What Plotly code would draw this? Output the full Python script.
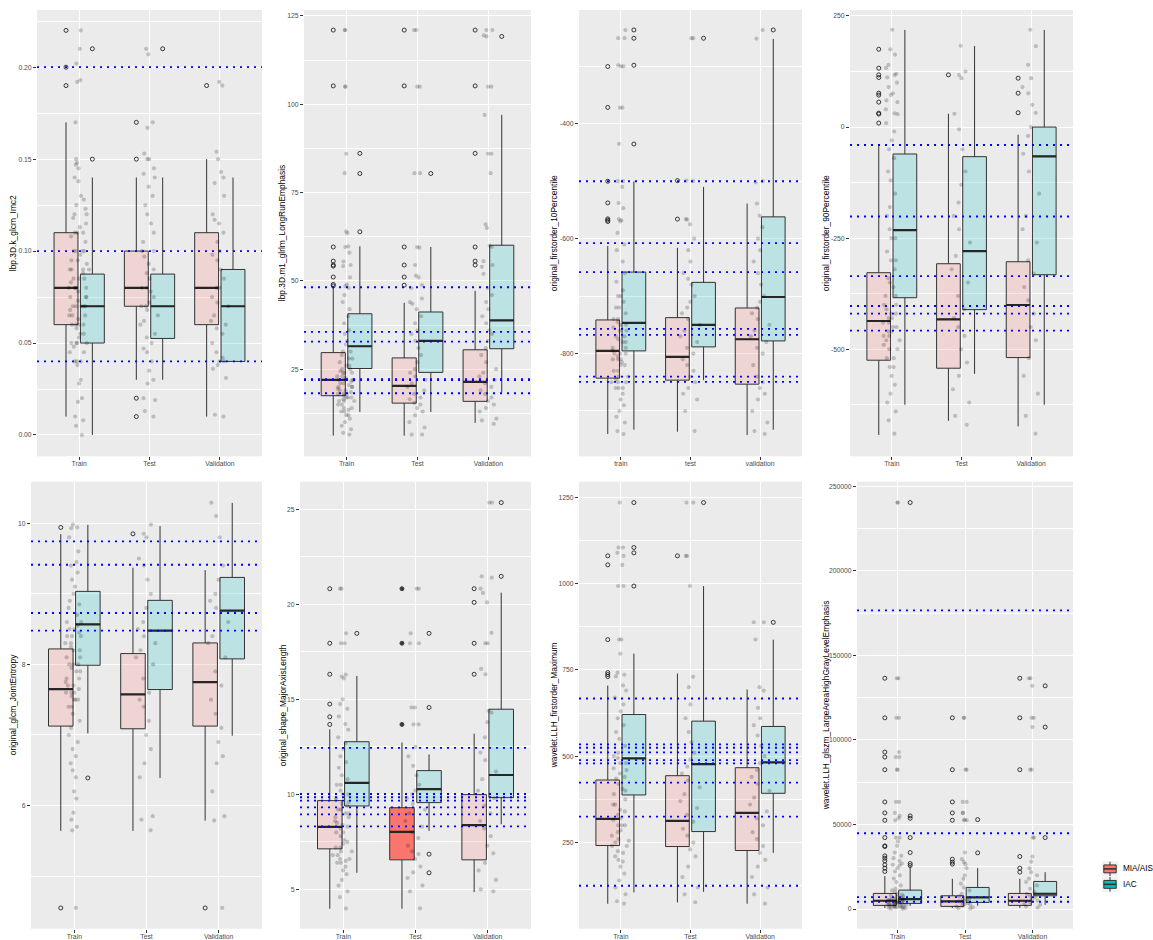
import plotly.graph_objects as go

# ------------------------------------------------------------------ data
categories = ["Train", "Test", "Validation"]
categories_lower = ["train", "test", "validation"]
group_names = ["MIA/AIS", "IAC"]
group_colors = ["#F8766D", "#00BFC4"]

feature_titles = [
    "lbp.3D.k_glcm_Imc2",
    "lbp.3D.m1_glrlm_LongRunEmphasis",
    "original_firstorder_10Percentile",
    "original_firstorder_90Percentile",
    "original_glcm_JointEntropy",
    "original_shape_MajorAxisLength",
    "wavelet.LLH_firstorder_Maximum",
    "wavelet.LLH_glszm_LargeAreaHighGrayLevelEmphasis",
]

# box stats per split (Train, Test, Validation): [lower whisker, q1, median, q3, upper whisker]
imc2_mia = [[0.01, 0.06, 0.08, 0.11, 0.17], [0.03, 0.07, 0.08, 0.10, 0.14], [0.01, 0.06, 0.08, 0.11, 0.15]]
imc2_iac = [[0.00, 0.05, 0.07, 0.0875, 0.14], [0.03, 0.0525, 0.07, 0.0875, 0.14], [0.04, 0.04, 0.07, 0.09, 0.14]]
imc2_mia_out = [[0.22, 0.20, 0.19], [0.17, 0.15, 0.02, 0.01], [0.19]]
imc2_iac_out = [[0.21, 0.15], [0.21], []]
imc2_cut = [0.20, 0.10, 0.04]
imc2_pts = [
    [0.22, 0.21, 0.202, 0.193, 0.192, 0.17, 0.15, 0.148, 0.147, 0.145, 0.14, 0.138, 0.13, 0.128, 0.125,
     0.123, 0.12, 0.118, 0.115, 0.113, 0.11, 0.11, 0.108, 0.105, 0.10, 0.10, 0.098, 0.095, 0.093, 0.09,
     0.09, 0.088, 0.085, 0.083, 0.08, 0.08, 0.08, 0.078, 0.075, 0.073, 0.07, 0.07, 0.07, 0.068, 0.065,
     0.063, 0.06, 0.06, 0.058, 0.055, 0.053, 0.05, 0.05, 0.048, 0.045, 0.04, 0.04, 0.038, 0.03, 0.028,
     0.02, 0.018, 0.01, 0.008, 0.005, 0.00,
     0.12, 0.11, 0.10, 0.095, 0.09, 0.085, 0.08, 0.08, 0.075, 0.07, 0.07, 0.065, 0.06, 0.055, 0.05, 0.045,
     0.09, 0.10, 0.085, 0.075, 0.065, 0.06, 0.05, 0.04],
    [0.21, 0.207, 0.17, 0.167, 0.153, 0.15, 0.15, 0.145, 0.142, 0.14, 0.135, 0.13, 0.125, 0.12, 0.115,
     0.11, 0.105, 0.10, 0.10, 0.097, 0.093, 0.09, 0.088, 0.085, 0.08, 0.08, 0.078, 0.075, 0.072, 0.07,
     0.07, 0.068, 0.065, 0.062, 0.06, 0.055, 0.053, 0.05, 0.047, 0.045, 0.04, 0.035, 0.03, 0.028, 0.02,
     0.019, 0.013, 0.01],
    [0.19, 0.192, 0.154, 0.15, 0.143, 0.14, 0.137, 0.13, 0.12, 0.117, 0.115, 0.11, 0.105, 0.10, 0.098,
     0.095, 0.09, 0.085, 0.08, 0.08, 0.075, 0.072, 0.07, 0.065, 0.062, 0.06, 0.058, 0.055, 0.05, 0.045,
     0.042, 0.04, 0.04, 0.038, 0.036, 0.031, 0.011, 0.01],
]

lre_mia = [[6.2, 17.5, 22.0, 29.7, 48.4], [6.2, 15.4, 20.3, 28.2, 43.8], [9.8, 15.9, 21.4, 30.5, 47.2]]
lre_iac = [[12.9, 25.2, 31.5, 40.7, 59.8], [12.9, 24.1, 33.0, 41.2, 59.6], [18.4, 30.8, 38.8, 60.1, 97.0]]
lre_mia_out = [[121, 105.2, 59.6, 55.6, 54.5, 54.2, 51.1, 49.0, 48.6], [121, 105.2, 59.6, 54.5, 51.1, 48.8],
               [121, 105.2, 86.1, 59.6, 55.6, 54.5]]
lre_iac_out = [[86.1, 80.4, 63.9], [80.4], [119.2]]
lre_cut = [48.2, 35.6, 32.8, 22.2, 21.9, 18.2]
lre_pts = [
    [121, 121, 105, 105, 86, 80.5, 64, 63.5, 59.8, 59.6, 58, 55.5, 54.5, 54.2, 51, 49, 48.5, 48, 46, 44,
     42, 40, 38, 36, 35, 33, 32, 30, 29, 28, 27, 26, 25, 24.5, 24, 23, 22.5, 22, 22, 21.5, 21, 20.5, 20,
     19.5, 19, 18.5, 18, 17.5, 17, 16.5, 16, 15, 14, 13.5, 13, 12, 11, 10, 9, 8, 7, 6.5,
     30, 28, 26, 25, 24, 23, 22, 21, 20, 19, 18, 17, 16, 15, 14, 13, 12, 20, 22, 24, 18, 17, 16],
    [121, 121, 105, 105, 80.5, 80.5, 59.6, 59.4, 54.5, 51.5, 51, 48.8, 48, 45, 44, 43.5, 42, 40, 38, 36,
     35, 33, 31, 29, 27, 25, 24, 23, 22, 21, 20, 19, 18, 17, 16.5, 15.5, 15, 14, 13, 12, 10, 8.5, 6.5, 6.5],
    [121, 121, 119.5, 119.2, 105, 105, 97, 86, 86, 80.5, 66, 65, 60, 59.6, 55.6, 54.5, 54, 52, 48, 46,
     44, 42, 40, 38, 36, 35, 33, 31, 29, 27, 25, 24, 23, 22, 21, 20, 19, 18, 17, 16, 15, 14, 13, 11,
     10.5, 9.5],
]

p10_mia = [[-940, -842.8, -795.4, -741.5, -613], [-936, -846.3, -805.8, -737.5, -616],
           [-941.8, -853.3, -775.1, -720.7, -539]]
p10_iac = [[-932.6, -795.4, -746.7, -658.2, -500.1], [-846.3, -788.4, -750.2, -676.1, -510],
           [-932.6, -778, -701.6, -562.1, -252.4]]
p10_mia_out = [[-300.4, -371.6, -500.1, -537.8, -565.6, -567.9, -570.2], [-499, -566], []]
p10_iac_out = [[-236.8, -251.2, -298.1, -435.3], [-251.2], [-236.8]]
p10_cut = [-500.1, -607.8, -658.2, -757.2, -767.6, -840, -849.2]
p10_pts = [
    [-237, -251, -251, -298, -300, -300, -372, -372, -435, -500, -500, -510, -538, -547, -566, -568, -570,
     -590, -610, -620, -640, -660, -675, -690, -700, -710, -720, -730, -740, -745, -750, -755, -760, -770,
     -775, -780, -790, -795, -800, -805, -810, -815, -820, -830, -840, -845, -850, -860, -870, -880, -890,
     -900, -910, -920, -935, -940,
     -760, -770, -780, -790, -800, -810, -820, -830, -840, -850, -860, -700, -720, -740, -750, -800, -810,
     -850, -860],
    [-251, -251, -499, -500, -566, -567, -575, -600, -620, -640, -660, -670, -680, -700, -710, -720, -730,
     -740, -750, -760, -770, -780, -790, -800, -810, -820, -830, -840, -850, -860, -870, -880, -900, -935],
    [-237, -252, -500, -502, -539, -560, -580, -600, -620, -640, -660, -680, -700, -710, -720, -730, -740,
     -750, -760, -770, -780, -790, -800, -820, -840, -850, -860, -870, -880, -900, -920, -935, -940],
]

p90_mia = [[-693.1, -524.7, -436.4, -327.8, -38.2], [-661, -542.7, -432.6, -307.6, 29.9],
           [-673.7, -518.7, -400.4, -303.1, -17.2]]
p90_iac = [[-625, -384, -232, -60.6, 218.6], [-555.4, -410.9, -279.2, -66.6, 182.6],
           [-625, -332.3, -65.9, 0, 218.6]]
p90_mia_out = [[175.1, 132.5, 117.5, 111.5, 76.3, 71.9, 56.1, 31.4, 29.2, 9.0], [117.5], [110, 76.3, 32.2]]
p90_iac_out = [[], [], []]
p90_cut = [-40.4, -201.3, -335.3, -402.7, -419.9, -458.1]
p90_pts = [
    [219, 175, 163, 140, 133, 120, 117, 112, 100, 90, 76, 72, 60, 56, 40, 31, 29, 9, -10, -30, -50, -70,
     -100, -120, -150, -180, -200, -230, -250, -280, -300, -320, -340, -360, -380, -400, -410, -420, -430,
     -440, -450, -460, -470, -480, -500, -520, -540, -560, -580, -600, -620, -640, -660, -690,
     -350, -380, -400, -420, -440, -460, -480, -500, -520, -540, -430, -450, -470, -490, -300, -250],
    [183, 125, 117, 110, 30, -5, -50, -100, -130, -170, -200, -230, -260, -290, -320, -350, -380, -410,
     -430, -450, -470, -500, -530, -560, -590, -620, -650, -670],
    [219, 182, 140, 110, 90, 76, 50, 32, 0, -20, -60, -100, -150, -200, -230, -260, -300, -330, -360, -390,
     -420, -450, -480, -520, -560, -600, -650, -690],
]

ent_mia = [[5.642, 7.126, 7.649, 8.219, 9.845], [5.642, 7.088, 7.574, 8.153, 9.369], [5.788, 7.126, 7.748, 8.304, 9.336]]
ent_iac = [[7.022, 7.988, 8.568, 9.034, 9.976], [6.391, 7.644, 8.478, 8.907, 9.958], [6.99, 8.078, 8.761, 9.232, 10.287]]
ent_mia_out = [[9.94, 4.55], [9.849], [4.55]]
ent_iac_out = [[6.391], [], []]
ent_cut = [9.741, 9.411, 8.728, 8.478]
ent_pts = [
    [9.98, 9.94, 9.93, 9.8, 9.6, 9.45, 9.4, 9.3, 9.2, 9.1, 9.0, 8.9, 8.85, 8.8, 8.7, 8.6, 8.55, 8.5, 8.45,
     8.4, 8.3, 8.25, 8.2, 8.1, 8.0, 7.95, 7.9, 7.8, 7.75, 7.7, 7.65, 7.6, 7.55, 7.5, 7.4, 7.3, 7.2, 7.1,
     7.0, 6.9, 6.8, 6.7, 6.6, 6.5, 6.4, 6.2, 6.1, 5.9, 5.8, 5.7, 5.65, 4.55,
     8.6, 8.5, 8.4, 8.3, 8.2, 8.1, 8.0, 7.9, 7.8, 7.7, 7.6, 7.5, 7.4, 8.4, 8.0, 7.6, 7.5],
    [9.98, 9.85, 9.8, 9.5, 9.4, 9.2, 9.0, 8.8, 8.6, 8.5, 8.4, 8.3, 8.2, 8.1, 8.0, 7.8, 7.6, 7.5, 7.4, 7.2,
     7.0, 6.8, 6.6, 6.4, 5.85, 5.8, 5.65],
    [10.29, 10.1, 9.8, 9.4, 9.2, 9.0, 8.9, 8.8, 8.6, 8.4, 8.3, 8.1, 7.9, 7.7, 7.5, 7.3, 7.1, 6.9, 6.7, 6.6,
     6.2, 5.85, 5.79, 4.55],
]

mal_mia = [[3.985, 7.135, 8.29, 9.672, 13.42], [3.985, 6.557, 8.03, 9.30, 12.73], [4.86, 6.557, 8.378, 9.987, 13.19]]
mal_iac = [[5.875, 9.39, 10.6, 12.77, 16.23], [8.08, 9.567, 10.28, 11.25, 12.1], [8.43, 9.83, 11.02, 14.48, 20.61]]
mal_mia_out = [[20.82, 17.95, 16.32, 14.75, 14.08, 13.68], [20.82, 17.95, 13.68], [20.82, 20.1, 17.95, 16.32]]
mal_iac_out = [[18.47], [18.47, 14.57, 6.855, 5.875], [25.35, 21.47]]
mal_cut = [12.45, 10.02, 9.85, 9.67, 9.32, 8.95, 8.32]
mal_pts = [
    [20.82, 20.82, 18.47, 17.95, 17.95, 16.3, 16.2, 16.1, 15.0, 14.75, 14.5, 14.1, 13.7, 13.4, 13.0, 12.7,
     12.4, 12.0, 11.7, 11.4, 11.0, 10.8, 10.5, 10.2, 10.0, 9.8, 9.6, 9.4, 9.2, 9.0, 8.8, 8.6, 8.4, 8.2,
     8.0, 7.8, 7.6, 7.4, 7.2, 7.0, 6.8, 6.6, 6.4, 6.2, 6.0, 5.8, 5.5, 5.2, 4.9, 4.6, 4.0,
     10.5, 10.0, 9.5, 9.0, 8.5, 8.3, 8.0, 7.5, 7.0, 6.5, 6.8, 7.2, 8.8, 9.2, 6.6, 6.4],
    [20.82, 20.82, 18.47, 17.95, 17.95, 14.57, 14.57, 13.68, 13.68, 12.5, 12.0, 11.5, 11.0, 10.5, 10.2,
     10.0, 9.8, 9.5, 9.2, 9.0, 8.6, 8.3, 8.0, 7.7, 7.3, 7.0, 6.86, 6.6, 6.2, 5.9, 5.6, 5.2, 4.9, 4.0],
    [25.35, 25.35, 21.47, 21.4, 20.82, 20.6, 20.1, 18.5, 17.95, 17.95, 16.6, 16.32, 14.4, 14.3, 13.8, 13.0,
     12.2, 11.8, 11.2, 10.8, 10.2, 9.8, 9.4, 9.0, 8.6, 8.2, 7.8, 7.3, 6.9, 6.4, 6.0, 5.5, 5.0, 4.9],
]

max_mia = [[72.7, 241.3, 318.4, 431.1, 704.7], [76.6, 238.4, 312.6, 443.6, 739.4], [72.7, 226.9, 335.8, 466.8, 693.2]]
max_iac = [[105.5, 387.8, 493.7, 620.9, 797.2], [107.4, 281.8, 477.4, 601.6, 992.8], [220.1, 392.6, 482.2, 586.2, 837.7]]
max_mia_out = [[1080.4, 1054.4, 837.7, 742.3, 736.5, 730.7], [1080.4], []]
max_iac_out = [[1234.6, 1104.5, 1089.1, 992.8], [1234.6], [887.8]]
max_cut = [667.2, 534.2, 524.6, 511.1, 488.9, 479.3, 423.4, 325.2, 124.8]
max_pts = [
    [1234.6, 1104.5, 1104.5, 1089, 1080, 1054, 993, 993, 838, 838, 797, 742, 736, 731, 705, 690, 670, 650,
     630, 610, 590, 570, 550, 530, 510, 495, 480, 465, 450, 435, 420, 405, 390, 375, 360, 345, 330, 315,
     300, 285, 270, 255, 240, 225, 210, 195, 180, 160, 140, 120, 100, 80, 73,
     500, 480, 460, 440, 400, 360, 340, 320, 300, 280, 260, 240, 220, 200, 300, 250],
    [1234.6, 1234.6, 1080, 1080, 993, 730, 700, 650, 610, 570, 540, 510, 490, 470, 450, 430, 410, 390,
     370, 350, 330, 310, 290, 270, 250, 230, 210, 180, 150, 120, 100, 77],
    [888, 888, 838, 700, 690, 640, 610, 590, 560, 530, 500, 480, 460, 440, 420, 400, 380, 360, 340, 320,
     300, 280, 260, 240, 220, 200, 180, 150, 120, 100, 73],
]

lah_mia = [[600, 2158, 4912, 9240, 19500], [600, 1570, 4520, 7860, 17890], [600, 2158, 4912, 9240, 17890]]
lah_iac = [[1960, 3340, 5900, 11210, 25560], [1960, 3930, 6880, 12780, 24190], [2550, 7860, 9050, 16320, 21830]]
lah_mia_out = [[136500, 113100, 92840, 89890, 82410, 63330, 56840, 52510, 42280, 37370, 36970, 31460,
                30090, 28520, 26150, 24190, 22220],
               [113100, 82410, 63330, 56840, 52510, 29500, 27730, 26550],
               [136500, 113100, 82410, 31070, 24190, 21830]]
lah_iac_out = [[240400, 55070, 53690, 42280, 33430, 26940, 25760], [52900, 33240], [132000, 107600, 42280]]
lah_cut = [176630, 44840, 7080, 4330]
lah_pts = [
    [240400, 240400, 136500, 136500, 113100, 113100, 92840, 89890, 89890, 82410, 82410, 63330, 63330,
     56840, 55070, 53690, 52510, 42280, 42280, 40000, 37370, 33430, 31460, 30090, 28520, 26940, 26150,
     25760, 24190, 22220, 19860, 18000, 16000, 14000, 12000, 11000, 10000, 9000, 8500, 8000, 7500, 7000,
     6500, 6000, 5800, 5500, 5200, 5000, 4700, 4500, 4200, 4000, 3700, 3500, 3200, 3000, 2700, 2500, 2200,
     2000, 1800, 1500, 1200, 1000, 800, 500, 300, 200,
     3000, 4000, 5000, 6000, 2000, 3500, 4500, 5500, 1000, 1500, 2500],
    [113100, 113100, 82410, 82410, 63330, 63330, 56840, 56840, 52900, 52510, 52510, 33430, 29500, 27730,
     26550, 24190, 20000, 17890, 15000, 12780, 11000, 9000, 7500, 6000, 5500, 5000, 4500, 4000, 3500,
     3000, 2500, 2000, 1500, 1000, 500, 300],
    [136500, 136500, 132000, 113100, 113100, 107600, 82410, 82410, 42280, 42280, 31070, 28000, 24190,
     21830, 20000, 18000, 16000, 14000, 12000, 10000, 9000, 8000, 7000, 6000, 5000, 4000, 3000, 2500,
     1500, 800],
]

# ------------------------------------------------------------------ layout / style
W, H = 1153, 940
FONT = "Liberation Sans, Arial, Helvetica, sans-serif"
BOX_OFF = 0.1875
BOX_W = 0.34
TICK_SIZE = 6.8
TITLE_SIZE = 8.4

panels = [
    dict(mia=imc2_mia, iac=imc2_iac, mo=imc2_mia_out, io=imc2_iac_out, cut=imc2_cut, pts=imc2_pts, cats=categories),
    dict(mia=lre_mia, iac=lre_iac, mo=lre_mia_out, io=lre_iac_out, cut=lre_cut, pts=lre_pts, cats=categories),
    dict(mia=p10_mia, iac=p10_iac, mo=p10_mia_out, io=p10_iac_out, cut=p10_cut, pts=p10_pts, cats=categories_lower),
    dict(mia=p90_mia, iac=p90_iac, mo=p90_mia_out, io=p90_iac_out, cut=p90_cut, pts=p90_pts, cats=categories),
    dict(mia=ent_mia, iac=ent_iac, mo=ent_mia_out, io=ent_iac_out, cut=ent_cut, pts=ent_pts, cats=categories),
    dict(mia=mal_mia, iac=mal_iac, mo=mal_mia_out, io=mal_iac_out, cut=mal_cut, pts=mal_pts, cats=categories),
    dict(mia=max_mia, iac=max_iac, mo=max_mia_out, io=max_iac_out, cut=max_cut, pts=max_pts, cats=categories),
    dict(mia=lah_mia, iac=lah_iac, mo=lah_mia_out, io=lah_iac_out, cut=lah_cut, pts=lah_pts, cats=categories),
]

# pixel rectangles in the screenshot (left, right, top, bottom) of each panel
rects = [
    (37, 262, 10, 457.3), (304, 531, 10, 457.3), (579, 802, 10, 457.3), (850, 1073, 10, 457.3),
    (31, 262, 482.7, 930.7), (300, 531, 482.7, 930.7), (579, 802, 482.7, 930.7), (857, 1073, 482.7, 930.7),
]
yranges = [
    [-0.0116, 0.2311], [0.34, 126.7], [-978.9, -202.0], [-741, 263.5],
    [4.256, 10.588], [2.933, 26.45], [0.4, 1295.2], [-11625, 252733],
]
major_ticks = [
    [0.00, 0.05, 0.10, 0.15, 0.20], [25, 50, 75, 100, 125], [-800, -600, -400], [-500, -250, 0, 250],
    [6, 8, 10], [5, 10, 15, 20, 25], [250, 500, 750, 1000, 1250], [0, 50000, 100000, 150000, 200000, 250000],
]
minor_step = [0.025, 12.5, 100, 125, 1, 2.5, 125, 25000]
title_x = [13, 282, 554, 826, 13, 283, 554, 826]
solid_boxes = [(5, 1, 0)]          # (panel, split, group) drawn with opaque fill
filled_outliers = [(5, 1, 0)]      # outliers drawn as filled dots


def px(x):
    return x / W


def py(y):
    return 1 - y / H


fig = go.Figure()
shapes = []
annotations = []
layout_axes = {}

for pi, p in enumerate(panels):
    n = pi + 1
    xa = "x" if n == 1 else f"x{n}"
    ya = "y" if n == 1 else f"y{n}"
    for gi, (stats, outs) in enumerate([(p["mia"], p["mo"]), (p["iac"], p["io"])]):
        off = -BOX_OFF if gi == 0 else BOX_OFF
        r, g, b = [int(group_colors[gi][k:k + 2], 16) for k in (1, 3, 5)]
        for si in range(3):
            lo, q1, med, q3, hi = stats[si]
            pos = si + 1 + off
            fill = group_colors[gi] if (pi, si, gi) in solid_boxes else f"rgba({r},{g},{b},0.2)"
            fig.add_trace(go.Box(
                x=[pos], q1=[q1], median=[med], q3=[q3], lowerfence=[lo], upperfence=[hi],
                width=BOX_W, whiskerwidth=0, fillcolor=fill, boxpoints=False,
                line=dict(color="#333333", width=1), showlegend=False, hoverinfo="skip",
                xaxis=xa, yaxis=ya))
            fig.add_trace(go.Box(
                x=[pos], q1=[med], median=[med], q3=[med], lowerfence=[med], upperfence=[med],
                width=BOX_W, whiskerwidth=0, fillcolor="rgba(0,0,0,0)", boxpoints=False,
                line=dict(color="#262626", width=2.2), showlegend=False, hoverinfo="skip",
                xaxis=xa, yaxis=ya))
        # outliers
        for filled in (False, True):
            ox, oy = [], []
            for si in range(3):
                if ((pi, si, gi) in filled_outliers) != filled:
                    continue
                ox += [si + 1 + off] * len(outs[si])
                oy += outs[si]
            if not ox:
                continue
            fig.add_trace(go.Scatter(
                x=ox, y=oy, mode="markers", showlegend=False, hoverinfo="skip",
                marker=dict(symbol="circle" if filled else "circle-open", size=4,
                            color="rgba(25,25,25,0.85)", line=dict(width=1)),
                xaxis=xa, yaxis=ya))
    # jittered points
    for si in range(3):
        vals = p["pts"][si]
        fig.add_trace(go.Box(
            x=[si + 1] * len(vals), y=vals, boxpoints="all", jitter=1, pointpos=0, width=0.3,
            fillcolor="rgba(0,0,0,0)", line=dict(color="rgba(0,0,0,0)", width=0),
            marker=dict(color="rgba(0,0,0,0.2)", size=4.2, line=dict(width=0)),
            showlegend=False, hoverinfo="skip", xaxis=xa, yaxis=ya))
    # dotted cut-off lines
    for c in p["cut"]:
        shapes.append(dict(type="line", xref=f"{xa} domain", x0=0, x1=1, yref=ya, y0=c, y1=c,
                           line=dict(color="#0000FF", width=1.8, dash="2px,5px"), layer="above"))

    l, rgt, t, btm = rects[pi]
    ticks = major_ticks[pi]
    step = minor_step[pi]
    lo_r, hi_r = yranges[pi]
    minors = []
    k = ticks[0] - step
    while k > lo_r:
        minors.append(k)
        k -= step
    for tv in ticks:
        mv = tv + step
        if lo_r < mv < hi_r:
            minors.append(mv)
    ttext = [f"{v:.2f}" for v in ticks] if pi == 0 else [str(v) for v in ticks]
    axis_font = dict(family=FONT, size=TICK_SIZE, color="#4D4D4D")
    layout_axes["xaxis" if n == 1 else f"xaxis{n}"] = dict(
        domain=[px(l), px(rgt)], range=[0.4, 3.6], tickmode="array", tickvals=[1, 2, 3], ticktext=p["cats"],
        showgrid=True, gridcolor="white", gridwidth=1.1, zeroline=False, showline=False,
        ticks="outside", ticklen=3, tickwidth=1, tickcolor="#333333", tickfont=axis_font,
        ticklabelstandoff=-2, anchor=ya, fixedrange=True)
    layout_axes["yaxis" if n == 1 else f"yaxis{n}"] = dict(
        domain=[py(btm), py(t)], range=yranges[pi], tickmode="array", tickvals=ticks, ticktext=ttext,
        showgrid=True, gridcolor="white", gridwidth=1.1, zeroline=False, showline=False,
        ticks="outside", ticklen=3, tickwidth=1, tickcolor="#333333", tickfont=axis_font,
        minor=dict(tickmode="array", tickvals=minors, showgrid=True, gridcolor="white", gridwidth=0.55, ticks=""),
        anchor=xa, fixedrange=True)
    annotations.append(dict(
        text=feature_titles[pi], textangle=-90, xref="paper", yref="paper",
        x=px(title_x[pi]), y=py((t + btm) / 2), xanchor="center", yanchor="middle",
        showarrow=False, font=dict(family=FONT, size=TITLE_SIZE, color="#000000")))

# ------------------------------------------------------------------ legend (drawn like ggplot keys)
for gi, name in enumerate(group_names):
    top = 863 + gi * 15.5
    bot = top + 15.5
    cx = 1110
    shapes.append(dict(type="rect", xref="paper", yref="paper", x0=px(1102), x1=px(1118), y0=py(bot), y1=py(top),
                       fillcolor="#F2F2F2", line=dict(width=0), layer="above"))
    shapes.append(dict(type="line", xref="paper", yref="paper", x0=px(cx), x1=px(cx), y0=py(top + 0.5), y1=py(bot - 0.5),
                       line=dict(color="#333333", width=1), layer="above"))
    shapes.append(dict(type="rect", xref="paper", yref="paper", x0=px(1103.8), x1=px(1116.2), y0=py(bot - 3.8),
                       y1=py(top + 3.8), fillcolor=group_colors[gi], line=dict(color="#333333", width=1),
                       layer="above"))
    shapes.append(dict(type="line", xref="paper", yref="paper", x0=px(1103.8), x1=px(1116.2),
                       y0=py((top + bot) / 2), y1=py((top + bot) / 2),
                       line=dict(color="#333333", width=1.6), layer="above"))
    annotations.append(dict(text=name, xref="paper", yref="paper", x=px(1121), y=py((top + bot) / 2),
                            xanchor="left", yanchor="middle", showarrow=False,
                            font=dict(family=FONT, size=8.2, color="#000000")))

fig.update_layout(
    width=W, height=H, margin=dict(l=0, r=0, t=0, b=0),
    paper_bgcolor="white", plot_bgcolor="#EBEBEB",
    showlegend=False, boxmode="overlay",
    font=dict(family=FONT, size=TICK_SIZE, color="#4D4D4D"),
    shapes=shapes, annotations=annotations,
    **layout_axes,
)

# place the figure at the page's top-left corner (no default body margin / scrollbars), no mode bar
fig.write_html("out.html",
               config={"displayModeBar": False},
               post_script="document.body.style.margin='0';document.body.style.overflow='hidden';")
